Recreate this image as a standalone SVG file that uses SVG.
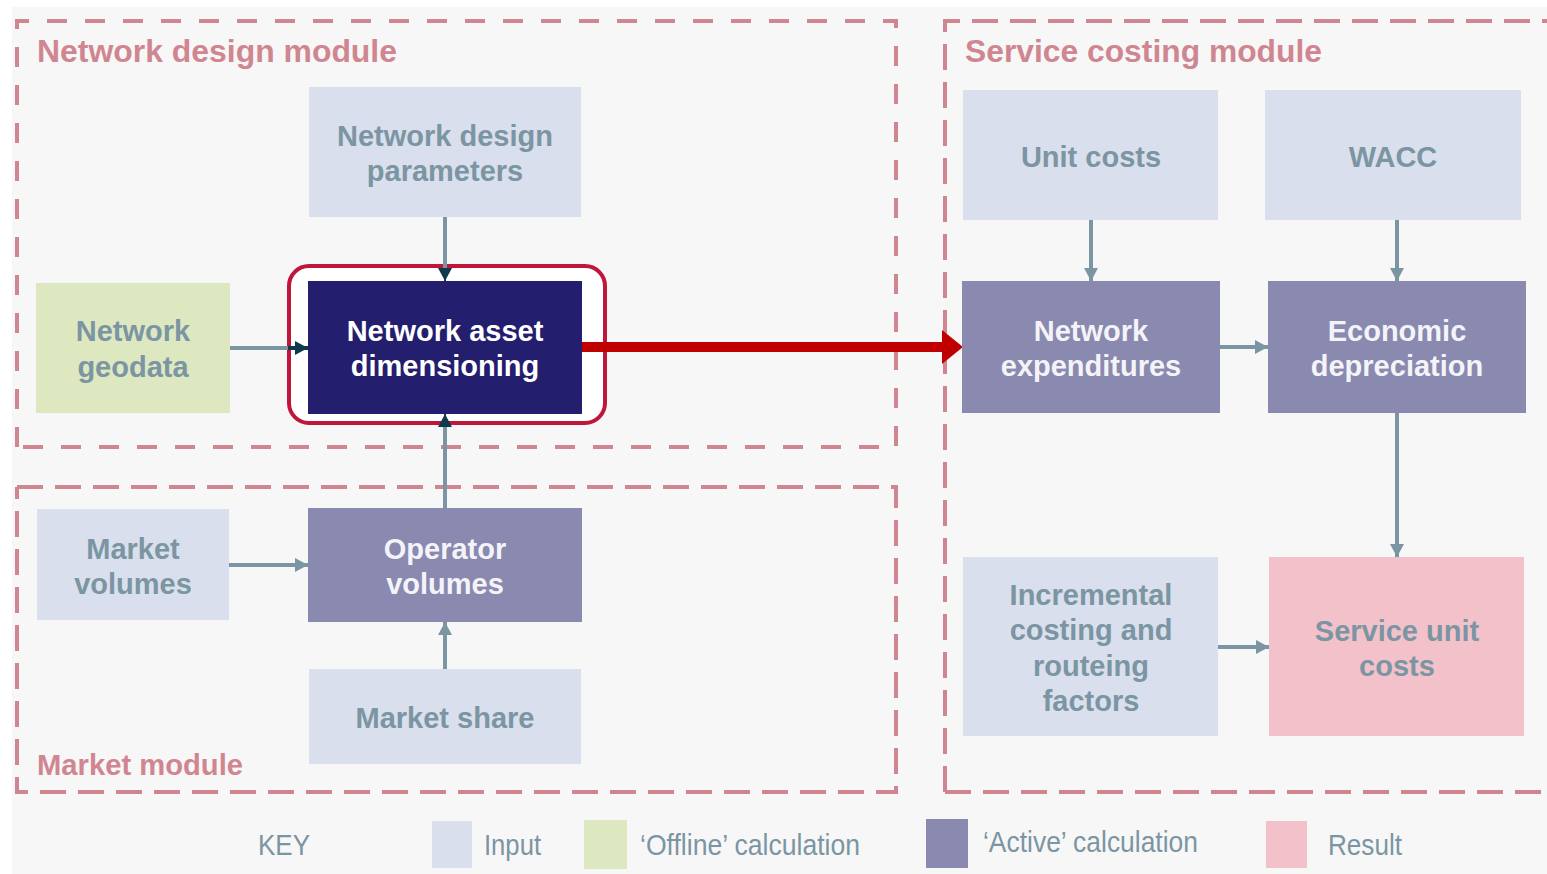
<svg xmlns="http://www.w3.org/2000/svg" width="1547" height="874" viewBox="0 0 1547 874">
<style>
.mod{fill:none;stroke:#d08690;stroke-width:4;}
.mtitle{font-family:"Liberation Sans",Arial,sans-serif;font-weight:bold;fill:#d08690;}
.in{fill:#d9dfec;}
.off{fill:#dde8c0;}
.act{fill:#8a89b0;}
.res{fill:#f3c1ca;}
.dark{fill:#231e6e;}
.t{font-family:"Liberation Sans",Arial,sans-serif;font-weight:bold;font-size:29px;text-anchor:middle;}
.tg{fill:#7b95a3;}
.tw{fill:#f4f4f8;}
.key{font-family:"Liberation Sans",Arial,sans-serif;font-size:29px;fill:#7b95a3;}
.conn{stroke:#7b95a3;stroke-width:4;fill:none;}
</style>
<defs>
<marker id="ag" markerUnits="userSpaceOnUse" markerWidth="16" markerHeight="16" viewBox="0 0 16 16" refX="13" refY="8" orient="auto">
<path d="M0,1 L13,8 L0,15 Z" fill="#7b95a3"/>
</marker>
<marker id="ad" markerUnits="userSpaceOnUse" markerWidth="16" markerHeight="16" viewBox="0 0 16 16" refX="13" refY="8" orient="auto">
<path d="M0,1 L13,8 L0,15 Z" fill="#0f3a4e"/>
</marker>
</defs>
<rect x="0" y="0" width="1547" height="874" fill="#ffffff"/>
<rect x="12" y="7" width="1535" height="867" fill="#f7f7f7"/>

<g id="modules">
<path class="mod" d="M17,447 V21 H896 V447 H17" stroke-dasharray="20 18"/>
<path class="mod" d="M17,487 H896 V792 H17 V487" stroke-dasharray="26 12"/>
<path class="mod" d="M945,792 V21 H1547 M945,792 H1547" stroke-dasharray="26 12"/>
<text class="mtitle" x="37" y="62" font-size="31" textLength="360" lengthAdjust="spacingAndGlyphs">Network design module</text>
<text class="mtitle" x="37" y="775" font-size="30" textLength="206" lengthAdjust="spacingAndGlyphs">Market module</text>
<text class="mtitle" x="965" y="62" font-size="31" textLength="357" lengthAdjust="spacingAndGlyphs">Service costing module</text>
</g>

<g id="highlight">
<rect x="289" y="266" width="316" height="157" rx="20" fill="#ffffff" stroke="#c0163a" stroke-width="4"/>
</g>

<g id="connectors">
<line class="conn" x1="445" y1="217" x2="445" y2="270"/>
<line x1="445" y1="268" x2="445" y2="281" stroke="#0f3a4e" stroke-width="2" marker-end="url(#ad)"/>
<line class="conn" x1="230" y1="348" x2="290" y2="348"/>
<line x1="288" y1="348" x2="308" y2="348" stroke="#0f3a4e" stroke-width="4" marker-end="url(#ad)"/>
<line class="conn" x1="445" y1="508" x2="445" y2="424"/>
<line x1="445" y1="426" x2="445" y2="414" stroke="#0f3a4e" stroke-width="2" marker-end="url(#ad)"/>
<line class="conn" x1="229" y1="565" x2="308" y2="565" marker-end="url(#ag)"/>
<line class="conn" x1="445" y1="669" x2="445" y2="622" marker-end="url(#ag)"/>
<line x1="582" y1="347" x2="944" y2="347" stroke="#c00000" stroke-width="10"/>
<path d="M942,330 L963,347 L942,364 Z" fill="#c00000"/>
<line class="conn" x1="1091" y1="220" x2="1091" y2="281" marker-end="url(#ag)"/>
<line class="conn" x1="1397" y1="220" x2="1397" y2="281" marker-end="url(#ag)"/>
<line class="conn" x1="1220" y1="347" x2="1268" y2="347" marker-end="url(#ag)"/>
<line class="conn" x1="1397" y1="413" x2="1397" y2="557" marker-end="url(#ag)"/>
<line class="conn" x1="1218" y1="647" x2="1269" y2="647" marker-end="url(#ag)"/>
</g>

<g id="n-ndp">
<rect class="in" x="309" y="87" width="272" height="130"/>
<text class="t tg" x="445" y="146">Network design</text>
<text class="t tg" x="445" y="181">parameters</text>
</g>
<g id="n-geo">
<rect class="off" x="36" y="283" width="194" height="130"/>
<text class="t tg" x="133" y="341">Network</text>
<text class="t tg" x="133" y="377">geodata</text>
</g>
<g id="n-nad">
<rect class="dark" x="308" y="281" width="274" height="133"/>
<text class="t" fill="#ffffff" x="445" y="341">Network asset</text>
<text class="t" fill="#ffffff" x="445" y="376">dimensioning</text>
</g>
<g id="n-mv">
<rect class="in" x="37" y="509" width="192" height="111"/>
<text class="t tg" x="133" y="559">Market</text>
<text class="t tg" x="133" y="594">volumes</text>
</g>
<g id="n-ov">
<rect class="act" x="308" y="508" width="274" height="114"/>
<text class="t tw" x="445" y="559">Operator</text>
<text class="t tw" x="445" y="594">volumes</text>
</g>
<g id="n-ms">
<rect class="in" x="309" y="669" width="272" height="95"/>
<text class="t tg" x="445" y="728">Market share</text>
</g>
<g id="n-uc">
<rect class="in" x="963" y="90" width="255" height="130"/>
<text class="t tg" x="1091" y="167">Unit costs</text>
</g>
<g id="n-wacc">
<rect class="in" x="1265" y="90" width="256" height="130"/>
<text class="t tg" x="1393" y="167">WACC</text>
</g>
<g id="n-ne">
<rect class="act" x="962" y="281" width="258" height="132"/>
<text class="t tw" x="1091" y="341">Network</text>
<text class="t tw" x="1091" y="376">expenditures</text>
</g>
<g id="n-ed">
<rect class="act" x="1268" y="281" width="258" height="132"/>
<text class="t tw" x="1397" y="341">Economic</text>
<text class="t tw" x="1397" y="376">depreciation</text>
</g>
<g id="n-icr">
<rect class="in" x="963" y="557" width="255" height="179"/>
<text class="t tg" x="1091" y="605">Incremental</text>
<text class="t tg" x="1091" y="640">costing and</text>
<text class="t tg" x="1091" y="676">routeing</text>
<text class="t tg" x="1091" y="711">factors</text>
</g>
<g id="n-suc">
<rect class="res" x="1269" y="557" width="255" height="179"/>
<text class="t tg" x="1397" y="641">Service unit</text>
<text class="t tg" x="1397" y="676">costs</text>
</g>

<g id="legend">
<text class="key" x="258" y="855" textLength="52" lengthAdjust="spacingAndGlyphs">KEY</text>
<rect class="in" x="432" y="821" width="40" height="47"/>
<text class="key" x="484" y="855" textLength="57" lengthAdjust="spacingAndGlyphs">Input</text>
<rect class="off" x="584" y="820" width="43" height="49"/>
<text class="key" x="640" y="855" textLength="220" lengthAdjust="spacingAndGlyphs">‘Offline’ calculation</text>
<rect class="act" x="926" y="819" width="42" height="49"/>
<text class="key" x="983" y="852" textLength="215" lengthAdjust="spacingAndGlyphs">‘Active’ calculation</text>
<rect class="res" x="1266" y="821" width="41" height="47"/>
<text class="key" x="1328" y="855" textLength="74" lengthAdjust="spacingAndGlyphs">Result</text>
</g>
</svg>
